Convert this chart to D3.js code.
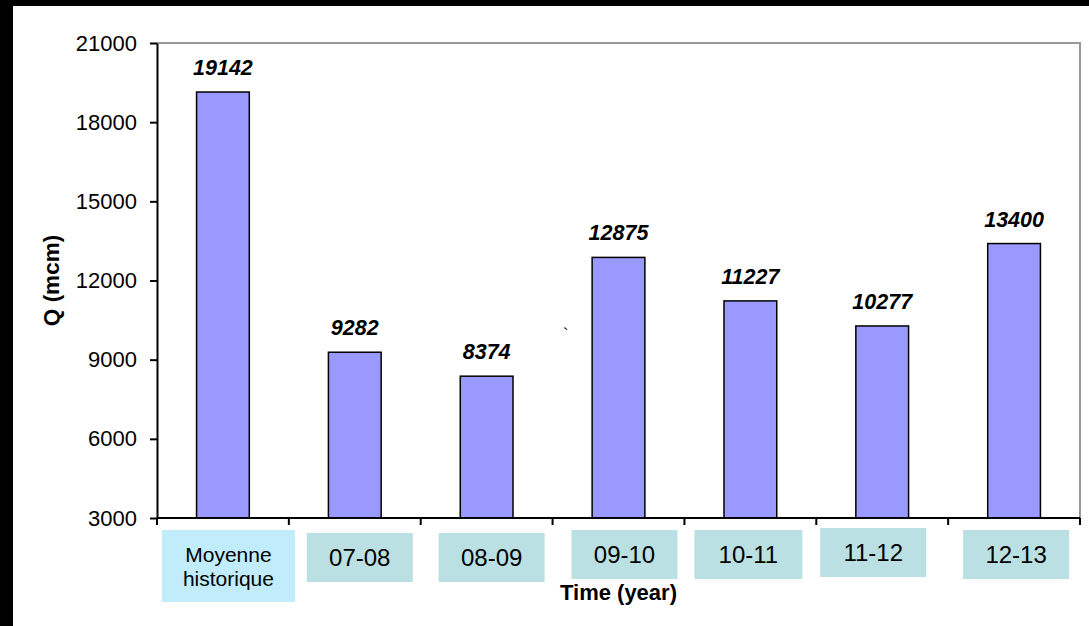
<!DOCTYPE html>
<meta charset="utf-8">
<head>
    <title>Q (mcm) by year</title>
    <script type="text/javascript" src="https://cdn.jsdelivr.net/npm/d3@7"></script>
    <style>
        body { margin: 0; background: #fff; }
        text { font-family: "Liberation Sans", Arial, sans-serif; }
    </style>
</head>
<body>
<script>
    // data
    var categories = ["Moyenne historique", "07-08", "08-09", "09-10", "10-11", "11-12", "12-13"];
    var values = [19142, 9282, 8374, 12875, 11227, 10277, 13400];
    var yTicks = [3000, 6000, 9000, 12000, 15000, 18000, 21000];

    // label boxes under the axis were placed by hand in the original
    var boxShift = [
        {dx: 5.5, top: 530, w: 133, h: 72, fill: "#c0ecfc"},
        {dx: 5, top: 533, w: 106, h: 49, fill: "#bbe0e3"},
        {dx: 5, top: 533, w: 106, h: 49, fill: "#bbe0e3"},
        {dx: 6, top: 530, w: 106, h: 49, fill: "#bbe0e3"},
        {dx: -2, top: 530, w: 108, h: 49, fill: "#bbe0e3"},
        {dx: -9, top: 528, w: 106, h: 49, fill: "#bbe0e3"},
        {dx: 2, top: 530, w: 106, h: 49, fill: "#bbe0e3"}
    ];

    var W = 1089, H = 626;
    var plot = {left: 157, right: 1080, top: 43, bottom: 518};

    var svg = d3.select('body').append('svg')
        .attr('width', W)
        .attr('height', H);

    svg.append('rect').attr('width', W).attr('height', H).attr('fill', '#fff');
    // black frame bits on the top and left
    svg.append('rect').attr('x', 0).attr('y', 0).attr('width', W).attr('height', 6).attr('fill', '#000');
    svg.append('rect').attr('x', 0).attr('y', 0).attr('width', 13).attr('height', H).attr('fill', '#000');

    var x = d3.scaleBand()
        .domain(categories)
        .range([plot.left, plot.right])
        .padding(0);

    var y = d3.scaleLinear()
        .domain([3000, 21000])
        .range([plot.bottom, plot.top]);

    // grey border top/right
    svg.append('path')
        .attr('d', 'M' + plot.left + ',' + plot.top + 'H' + plot.right + 'V' + plot.bottom)
        .attr('fill', 'none')
        .attr('stroke', '#999')
        .attr('stroke-width', 2);

    var barW = x.bandwidth() * 0.4;

    svg.append('g').selectAll('rect')
        .data(values)
        .enter()
        .append('rect')
        .attr('x', function(d, i){ return x(categories[i]) + x.bandwidth()/2 - barW/2; })
        .attr('y', function(d){ return y(d); })
        .attr('width', barW)
        .attr('height', function(d){ return y(3000) - y(d); })
        .attr('fill', '#9999ff')
        .attr('stroke', '#000')
        .attr('stroke-width', 1.5);

    svg.append('g').selectAll('text')
        .data(values)
        .enter()
        .append('text')
        .attr('x', function(d, i){ return x(categories[i]) + x.bandwidth()/2; })
        .attr('y', function(d){ return y(d) - 17; })
        .attr('text-anchor', 'middle')
        .attr('font-size', 21.5)
        .attr('font-weight', 'bold')
        .attr('font-style', 'italic')
        .attr('fill', '#000')
        .text(function(d){ return d; });

    // y axis
    var yAxis = svg.append('g')
        .attr('transform', 'translate(' + plot.left + ',0)')
        .call(d3.axisLeft(y).tickValues(yTicks).tickFormat(d3.format('d'))
            .tickSize(7).tickPadding(13).tickSizeOuter(0));
    yAxis.select('.domain').attr('stroke', '#000').attr('stroke-width', 2);
    yAxis.selectAll('.tick line').attr('stroke', '#000').attr('stroke-width', 2);
    yAxis.selectAll('.tick text')
        .attr('font-size', 22)
        .attr('font-family', '"Liberation Sans", Arial, sans-serif')
        .attr('fill', '#000');

    // x axis line + boundary ticks
    svg.append('line')
        .attr('x1', plot.left).attr('x2', plot.right)
        .attr('y1', y(3000)).attr('y2', y(3000))
        .attr('stroke', '#000').attr('stroke-width', 2);

    var bounds = categories.map(function(c){ return x(c); }).concat([x.range()[1]]);
    svg.append('g').selectAll('line')
        .data(bounds)
        .enter()
        .append('line')
        .attr('x1', function(d){ return d; })
        .attr('x2', function(d){ return d; })
        .attr('y1', y(3000))
        .attr('y2', y(3000) + 7)
        .attr('stroke', '#000')
        .attr('stroke-width', 2);

    // category label boxes
    var cats = svg.append('g').selectAll('g')
        .data(categories)
        .enter()
        .append('g');

    cats.append('rect')
        .attr('x', function(d, i){ return x(d) + x.bandwidth()/2 + boxShift[i].dx - boxShift[i].w/2; })
        .attr('y', function(d, i){ return boxShift[i].top; })
        .attr('width', function(d, i){ return boxShift[i].w; })
        .attr('height', function(d, i){ return boxShift[i].h; })
        .attr('fill', function(d, i){ return boxShift[i].fill; });

    cats.each(function(d, i){
        var g = d3.select(this);
        var cx = x(d) + x.bandwidth()/2 + boxShift[i].dx;
        var cy = boxShift[i].top + boxShift[i].h/2;
        var words = d.split(' ');
        if (words.length > 1) {
            words.forEach(function(w, k){
                g.append('text')
                    .attr('x', cx)
                    .attr('y', cy + (k - 0.5) * 24 + 8)
                    .attr('text-anchor', 'middle')
                    .attr('font-size', 21)
                    .attr('fill', '#000')
                    .text(w);
            });
        } else {
            g.append('text')
                .attr('x', cx)
                .attr('y', cy + 8.5)
                .attr('text-anchor', 'middle')
                .attr('font-size', 24)
                .attr('fill', '#000')
                .text(d);
        }
    });

    // axis titles
    svg.append('text')
        .attr('x', (plot.left + plot.right)/2)
        .attr('y', 600)
        .attr('text-anchor', 'middle')
        .attr('font-size', 22)
        .attr('font-weight', 'bold')
        .text('Time (year)');

    svg.append('text')
        .attr('transform', 'translate(59,' + ((plot.top + plot.bottom)/2) + ') rotate(-90)')
        .attr('text-anchor', 'middle')
        .attr('font-size', 22.5)
        .attr('font-weight', 'bold')
        .text('Q (mcm)');

    // stray backtick in the original
    svg.append('text')
        .attr('x', 563)
        .attr('y', 340)
        .attr('font-size', 16)
        .text('`');
</script>
</body>
</html>
